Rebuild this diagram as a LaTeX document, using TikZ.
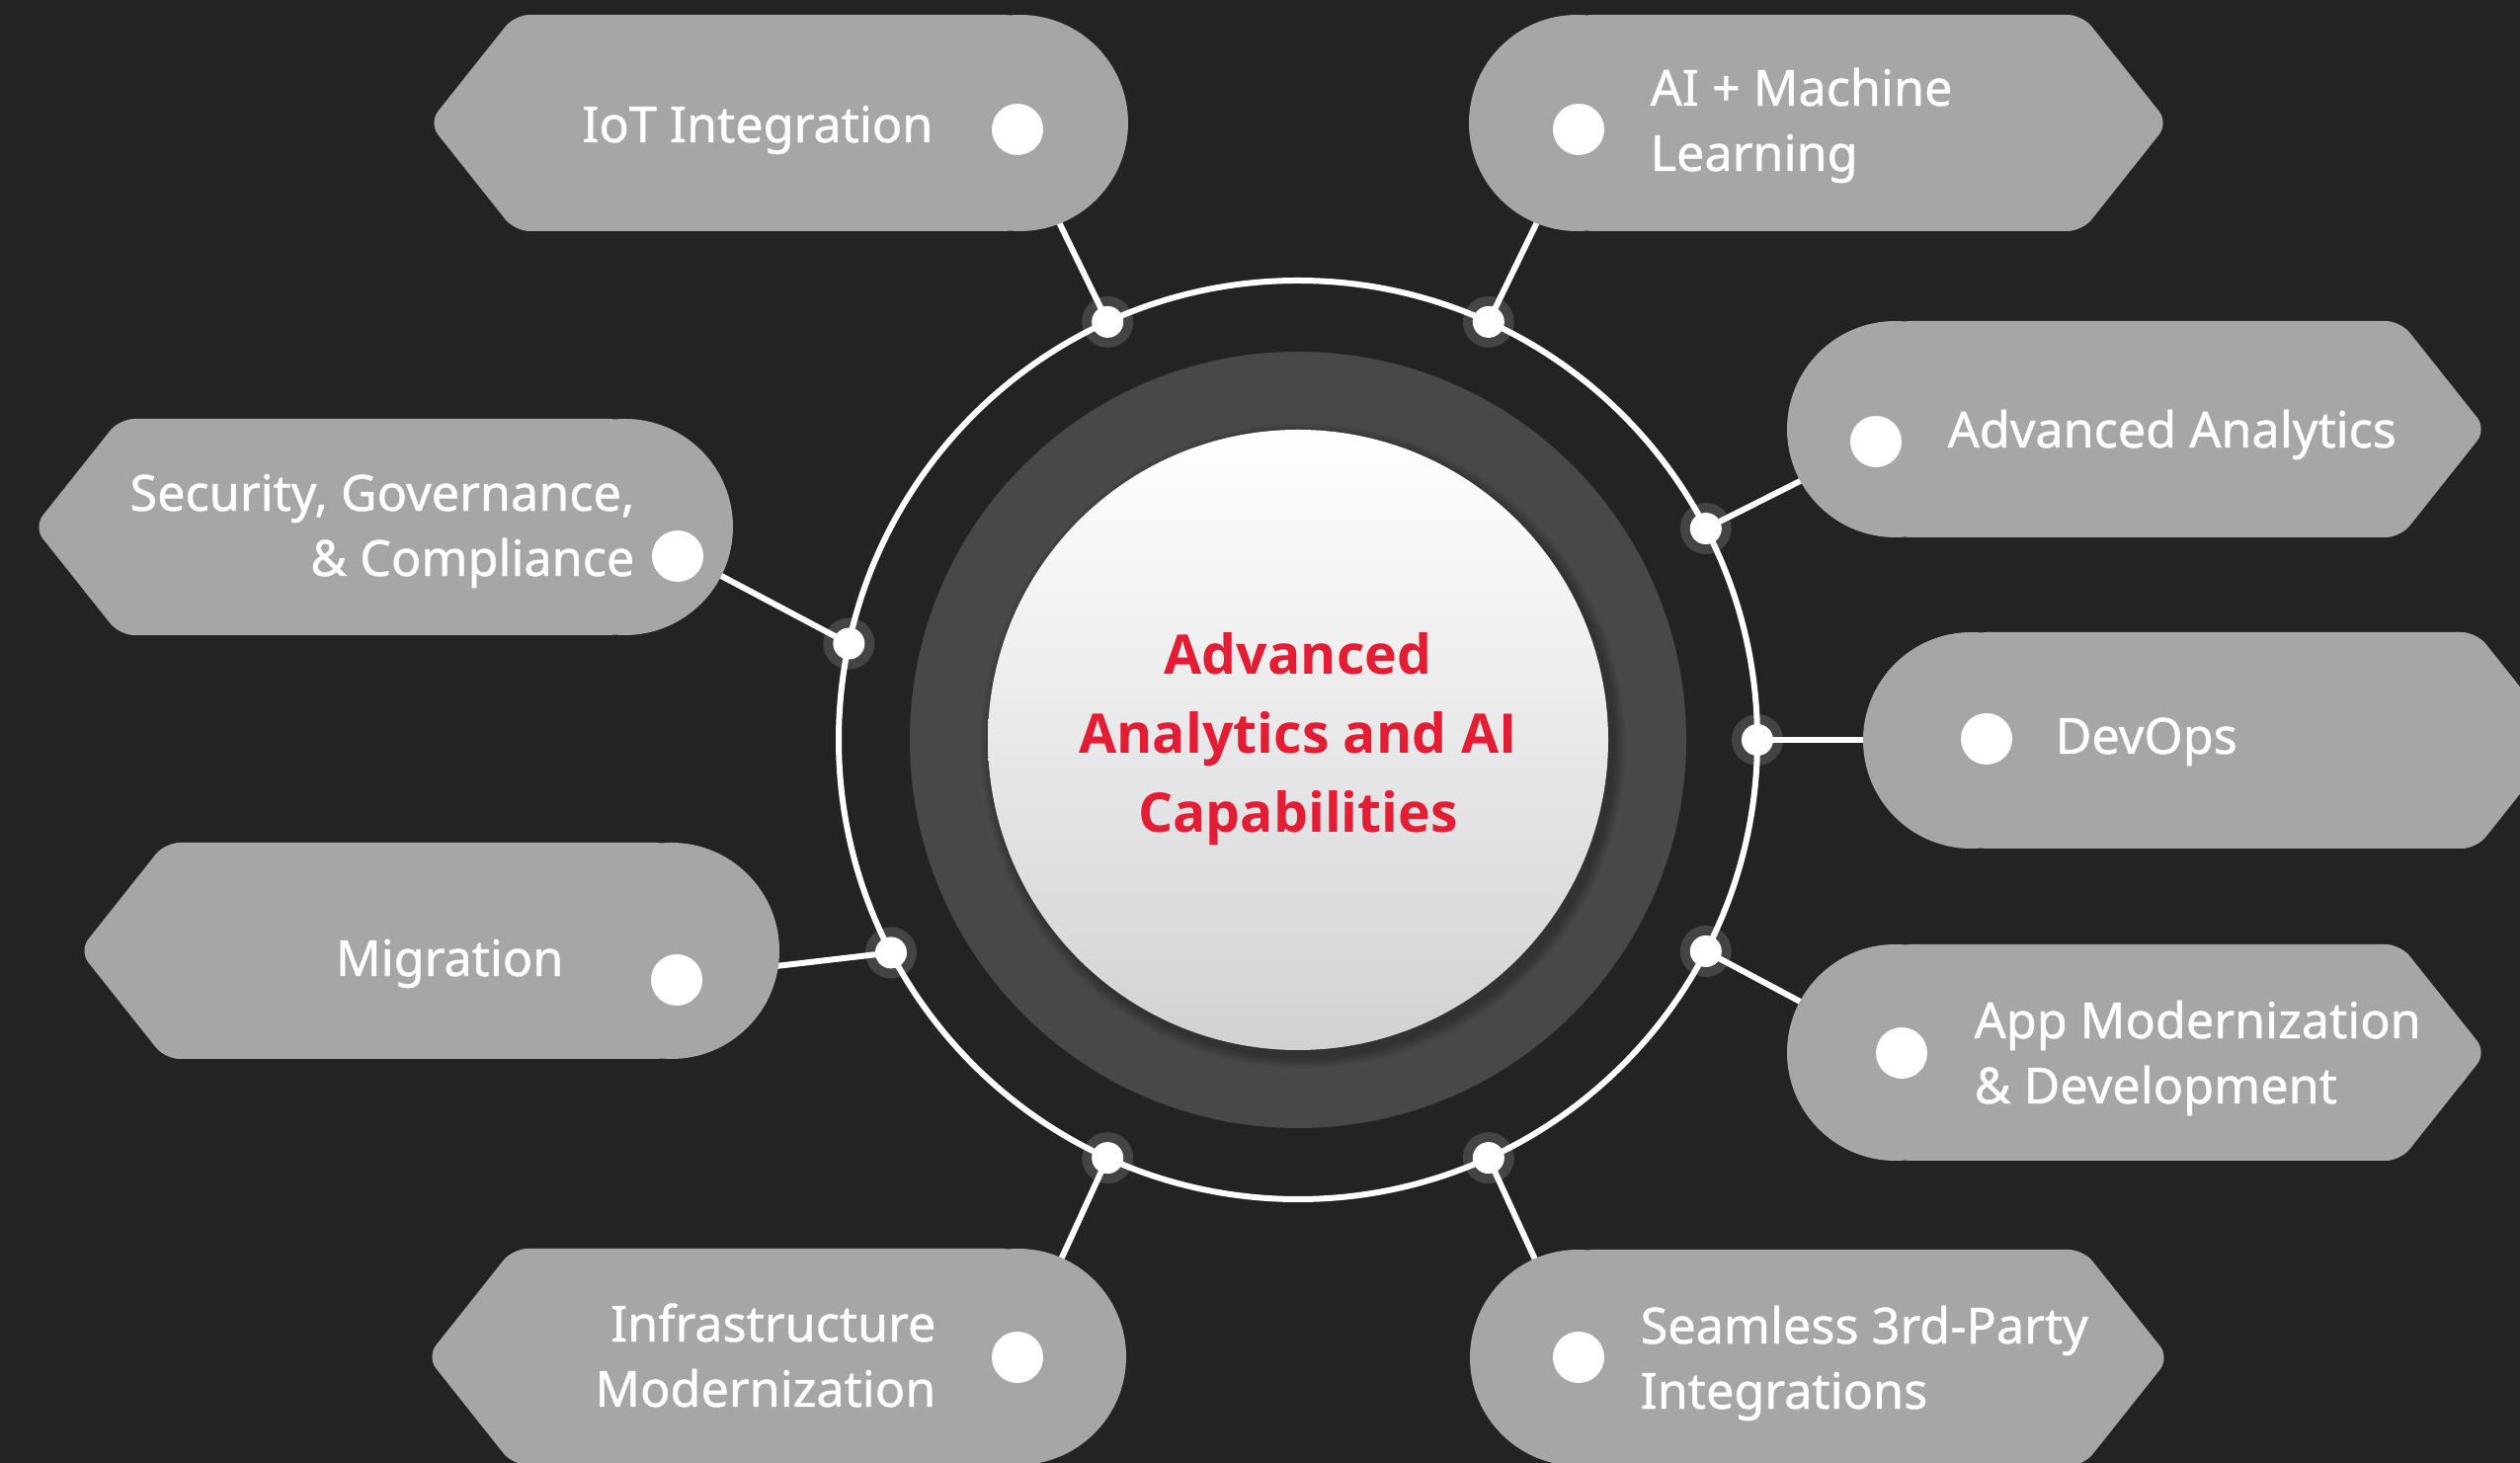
\documentclass[tikz,border=0pt]{standalone}
\usepackage{fontspec}
\usetikzlibrary{calc}
\newfontfamily\tagfont{Noto Sans}[FakeBold=0.9]
\newfontfamily\hubfont{Open Sans}
\definecolor{bgc}{HTML}{232323}
\definecolor{tagc}{HTML}{A6A6A6}
\definecolor{diskc}{HTML}{484848}
\definecolor{haloc}{HTML}{444444}
\definecolor{hubred}{HTML}{E31E34}
\definecolor{hubbot}{HTML}{D2D2D5}
\tikzset{
  tagfill/.style={fill=tagc},
  conn/.style={draw=white, line width=1.8pt},
  ringline/.style={draw=white, line width=1.8pt},
  halo/.style={circle, fill=haloc, minimum size=15.6pt, inner sep=0pt},
  ringdot/.style={circle, fill=white, minimum size=9.6pt, inner sep=0pt},
  tagdot/.style={circle, fill=white, minimum size=15.6pt, inner sep=0pt},
  tagtext/.style={text=white, font=\tagfont\fontsize{15.1}{19.8}\selectfont, inner sep=0pt},
  hubtext/.style={text=hubred, font=\hubfont\bfseries\fontsize{16.6}{24}\selectfont, inner sep=0pt, align=center}
}
% left-pointing tag: L R T B
\newcommand{\lefttag}[4]{%
  \fill[tagfill] ({#2-109.5},{(#3+#4)/2}) circle[radius=109.5];
  \fill[tagfill, rounded corners=4.5pt] ({#2-109.5},#3) -- ({#1+87},#3) -- (#1,{(#3+#4)/2}) -- ({#1+87},#4) -- ({#2-109.5},#4) -- cycle;
}
% right-pointing tag: L R T B
\newcommand{\righttag}[4]{%
  \fill[tagfill] ({#1+109.5},{(#3+#4)/2}) circle[radius=109.5];
  \fill[tagfill, rounded corners=4.5pt] ({#1+109.5},#3) -- ({#2-87},#3) -- (#2,{(#3+#4)/2}) -- ({#2-87},#4) -- ({#1+109.5},#4) -- cycle;
}
\begin{document}
\begin{tikzpicture}[x=0.3pt, y=-0.3pt]
\useasboundingbox (0,0) rectangle (2551,1481);
\clip (0,0) rectangle (2551,1481);
\fill[bgc] (0,0) rectangle (2551,1481);

\coordinate (c) at (1314,749);

% ring dot positions
\path (c) ++(-114.5:465) coordinate (p1);
\path (c) ++(-65.5:465) coordinate (p2);
\path (c) ++(-27.4:465) coordinate (p3);
\path (c) ++(0:465) coordinate (p4);
\path (c) ++(27.4:465) coordinate (p5);
\path (c) ++(65.5:465) coordinate (p6);
\path (c) ++(114.5:465) coordinate (p7);
\path (c) ++(152.4:465) coordinate (p8);
\path (c) ++(192.1:465) coordinate (p9);

% halos
\foreach \i in {1,...,9} { \node[halo] (h\i) at (p\i) {}; }

% connector ends inside tags
\coordinate (e1) at (1055,190);
\coordinate (e2) at (1573,190);
\coordinate (e3) at (1860,468);
\coordinate (e4) at (1920,749);
\coordinate (e5) at (1860,1034);
\coordinate (e6) at (1570,1310);
\coordinate (e7) at (1058,1310);
\coordinate (e8) at (760,981);
\coordinate (e9) at (700,567);

\foreach \i in {1,...,9} { \draw[conn] (p\i) -- (e\i); }

% ring
\draw[ringline] (c) circle[radius=465];

% central disks
\fill[diskc] (c) circle[radius=393];
\foreach \k in {1,...,6} {
  \fill[black, opacity=0.05] ($(c)+(5,6)$) circle[radius={314+\k*2}];
}
\shade[top color=white, bottom color=hubbot] (c) circle[radius=314];

% tags
\lefttag{434}{1142}{15}{234}
\righttag{1487}{2195}{15}{234}
\righttag{1809}{2517}{325}{544}
\righttag{1886}{2594}{640}{859}
\righttag{1809}{2517}{956}{1175}
\righttag{1488}{2196}{1265}{1484}
\lefttag{432}{1140}{1264}{1483}
\lefttag{80}{789}{853}{1072}
\lefttag{34}{742}{424}{643}

% ring dots
\foreach \i in {1,...,9} { \node[ringdot] (d\i) at (p\i) {}; }

% tag dots
\node[tagdot] (g1) at (1030,131) {};
\node[tagdot] (g2) at (1598,131) {};
\node[tagdot] (g3) at (1899,447) {};
\node[tagdot] (g4) at (2011,748) {};
\node[tagdot] (g5) at (1925,1066) {};
\node[tagdot] (g6) at (1598,1374) {};
\node[tagdot] (g7) at (1030,1374) {};
\node[tagdot] (g8) at (685,992) {};
\node[tagdot] (g9) at (686,563) {};

% texts (multi-line: base anchor = last line baseline)
\node[tagtext, anchor=base east] (t1) at (945,144) {IoT Integration};
\node[tagtext, anchor=base west, align=left] (t2) at (1670,173) {AI + Machine\\Learning};
\node[tagtext, anchor=base west] (t3) at (1971,453) {Advanced Analytics};
\node[tagtext, anchor=base west] (t4) at (2080,763) {DevOps};
\node[tagtext, anchor=base west, align=left] (t5) at (1998,1117) {App Modernization\\\& Development};
\node[tagtext, anchor=base west, align=left] (t6) at (1660,1426) {Seamless 3rd-Party\\Integrations};
\node[tagtext, anchor=base east, align=right] (t7) at (948,1424) {Infrastructure\\Modernization};
\node[tagtext, anchor=base east] (t8) at (571,988) {Migration};
\node[tagtext, anchor=base east, align=right] (t9) at (643,583) {Security, Governance,\\\& Compliance};

\node[hubtext, anchor=base] (hub) at (1314,843) {Advanced\\Analytics and AI\\Capabilities};
\end{tikzpicture}
\end{document}
